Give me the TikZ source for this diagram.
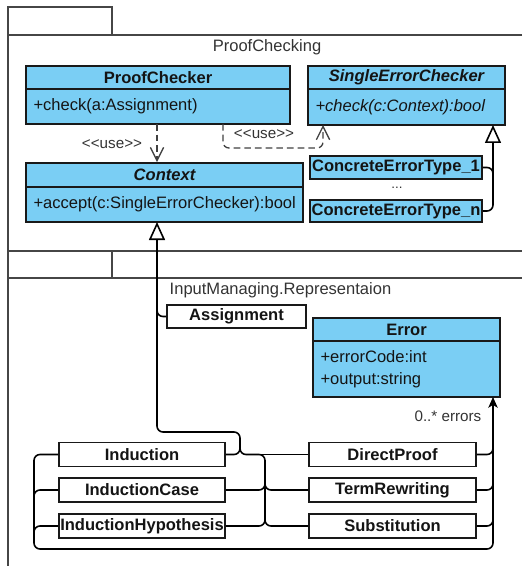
\documentclass[tikz,border=0pt]{standalone}
\usepackage{fontspec}
\setmainfont{Liberation Sans}
\usetikzlibrary{arrows.meta}
\definecolor{clsblue}{RGB}{122,206,244}
\definecolor{pkgline}{RGB}{70,70,70}
\definecolor{txt}{RGB}{20,20,20}
\def\pxu{0.75pt}
\newcommand\stereo[1]{<\kern0pt<#1>\kern0pt>}
\tikzset{
  every node/.style={text=txt, font=\fontsize{12.4}{16.5}\selectfont},
  boxbase/.style={draw=black!90, line width=1.7*\pxu, inner sep=0pt},
  clshead/.style={boxbase, fill=clsblue, font=\fontsize{12.4}{16.5}\selectfont\bfseries},
  clsbody/.style={boxbase, fill=clsblue, align=left, inner xsep=7.5*\pxu},
  plainbox/.style={boxbase, fill=white, font=\fontsize{12.4}{16.5}\selectfont\bfseries},
  bluebox/.style={boxbase, fill=clsblue, font=\fontsize{12.4}{16.5}\selectfont\bfseries},
  pkg/.style={draw=pkgline, line width=1.3*\pxu},
  wire/.style={draw=black, line width=1.6*\pxu, rounded corners=6*\pxu},
  usewire/.style={draw=black!75, line width=1.3*\pxu, dash pattern=on 5pt off 3pt,
    rounded corners=6*\pxu, -{Straight Barb[length=10pt,width=10pt,line width=1.3*\pxu]}},
  gentip/.style={{Triangle[open,length=13.5pt,width=12pt,fill=white,line width=1.6*\pxu]}-},
  small/.style={font=\fontsize{11.4}{14}\selectfont, text=black!80},
}
\begin{document}
\begin{tikzpicture}[x=0.75pt,y=-0.75pt]
\useasboundingbox (0,0) rectangle (522,566);

% package frames
\draw[pkg] (8,35) rectangle (112,7);
\draw[pkg] (522,35) -- (8,35) -- (8,566);
\draw[pkg] (8,251) -- (522,251);
\draw[pkg] (112,251) -- (112,278);
\draw[pkg] (8,278) -- (522,278);
\node[text=black!80] (pkgA) at (267,47) {ProofChecking};
\node[anchor=west, text=black!80] (pkgB) at (165,290) {InputManaging.Representaion};

% classes of ProofChecking
\node[clshead, minimum width=264*\pxu, minimum height=23*\pxu] (pch) at (158,77.5) {ProofChecker};
\node[clsbody, minimum width=264*\pxu, text width=249*\pxu, minimum height=35*\pxu] (pcb) at (158,106.5) {+check(a:Assignment)};

\node[clshead, minimum width=197*\pxu, minimum height=23*\pxu] (sech) at (406.5,77.5) {\itshape SingleErrorChecker};
\node[clsbody, minimum width=197*\pxu, text width=182*\pxu, minimum height=36*\pxu] (secb) at (406.5,107) {\itshape +check(c:Context):bool};

\node[clshead, minimum width=277*\pxu, minimum height=24*\pxu] (ctxh) at (164.5,175) {\itshape Context};
\node[clsbody, minimum width=277*\pxu, text width=262*\pxu, minimum height=35*\pxu] (ctxb) at (164.5,204.5) {+accept(c:SingleErrorChecker):bool};

\node[bluebox, minimum width=172*\pxu, minimum height=23*\pxu] (cet1) at (396,167.5) {ConcreteErrorType\_1};
\node[text=black!80, font=\fontsize{10}{12}\selectfont] (dots) at (397,188) {...};
\node[bluebox, minimum width=172*\pxu, minimum height=22*\pxu] (cetn) at (396,211) {ConcreteErrorType\_n};

% classes of InputManaging.Representaion
\node[plainbox, minimum width=139*\pxu, minimum height=23*\pxu] (asg) at (236.5,316.5) {Assignment};

\node[clshead, minimum width=187*\pxu, minimum height=23*\pxu] (errh) at (406.5,329.5) {Error};
\node[clsbody, minimum width=187*\pxu, text width=172*\pxu, minimum height=56*\pxu] (errb) at (406.5,369) {+errorCode:int\\+output:string};

\node[plainbox, minimum width=166*\pxu, minimum height=24*\pxu] (ind)  at (142,454.5) {Induction};
\node[plainbox, minimum width=166*\pxu, minimum height=24*\pxu] (indc) at (142,490) {InductionCase};
\node[plainbox, minimum width=166*\pxu, minimum height=24*\pxu] (indh) at (142,526) {InductionHypothesis};
\node[plainbox, minimum width=167*\pxu, minimum height=24*\pxu] (dp)  at (392.5,454.5) {DirectProof};
\node[plainbox, minimum width=167*\pxu, minimum height=24*\pxu] (tr)  at (392.5,490) {TermRewriting};
\node[plainbox, minimum width=167*\pxu, minimum height=24*\pxu] (sub) at (392.5,526) {Substitution};

% use dependencies
\coordinate (pcuse1) at (157,124);
\coordinate (pcuse2) at (223,124);
\coordinate (secuse) at (323,125);
\draw[usewire] (pcuse1) -- (pcuse1 |- ctxh.north);
\node[small] (use1) at (112,144) {\stereo{use}};
\draw[usewire] (pcuse2) |- (271,148) -| (secuse);
\node[small] (use2) at (264,134.5) {\stereo{use}};

% generalisation of the concrete error types
\coordinate (secgen) at (493,125);
\coordinate (secjoin) at (493,190);
\draw[wire, gentip] (secgen) |- (cetn.east);
\draw[wire] (cet1.east) -| (secjoin);

% generalisation of Context
\coordinate (ctxgen) at (157,222);
\draw[wire, gentip] (ctxgen) |- (240,432) |- (265,454.5) |- (sub.west);
\draw[wire] (asg.west) -| (157,300);
\draw[wire] (ind.east) -| (240,444);
\draw[wire] (dp.west) -- (250,454.5);
\draw[wire] (tr.west) -| (265,470);
\draw[wire] (indc.east) -| (265,470);
\draw[wire] (indh.east) -| (265,510);

% association to Error
\coordinate (errin) at (493,397);
\draw[wire, -{Stealth[length=8pt,width=7pt,inset=2pt]}] (ind.west) -| (34,549) -| (errin);
\draw[wire] (indc.west) -| (34,540);
\draw[wire] (indh.west) -| (34,540);
\draw[wire] (dp.east) -| (493,430);
\draw[wire] (tr.east) -| (493,430);
\draw[wire] (sub.east) -| (493,430);
\node[small, anchor=east] (mult) at (486,416) {0..* errors};
\end{tikzpicture}
\end{document}
